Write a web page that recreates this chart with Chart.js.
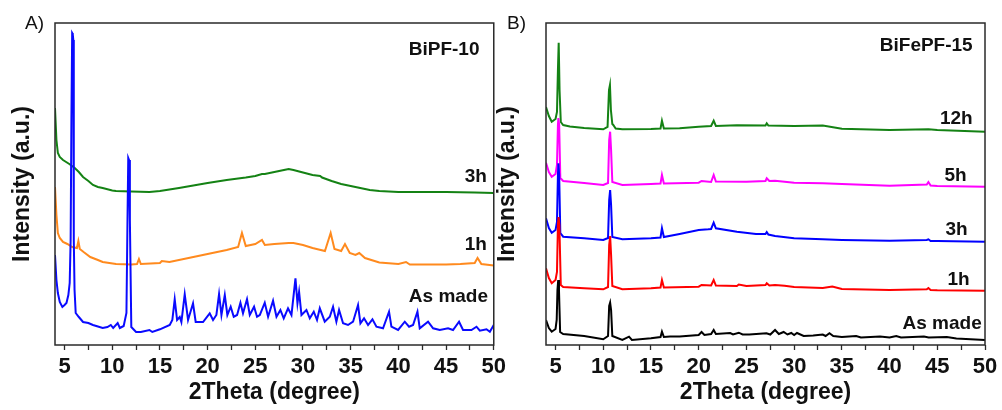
<!DOCTYPE html>
<html>
<head>
<meta charset="utf-8">
<script src="https://cdn.jsdelivr.net/npm/chart.js@4.4.1/dist/chart.umd.min.js"></script>
<style>
  html, body { margin: 0; padding: 0; background: #fff; }
  #wrap { position: relative; width: 1002px; height: 410px; overflow: hidden; }
  canvas { position: absolute; top: 0; }
  #chartA { left: 0; }
  #chartB { left: 496px; }
</style>
</head>
<body>
<div id="wrap">
  <canvas id="chartA" width="510" height="410"></canvas>
  <canvas id="chartB" width="506" height="410"></canvas>
</div>
<script>
// x axis (2Theta, degree)
const xTicks = [5, 7.5, 10, 12.5, 15, 17.5, 20, 22.5, 25, 27.5, 30, 32.5, 35, 37.5, 40, 42.5, 45, 47.5, 50];
const xTickLabels = ['5', '10', '15', '20', '25', '30', '35', '40', '45', '50'];

// panel A - BiPF-10, intensity in a.u. (offset curves)
const seriesNamesA = ['As made', '1h', '3h'];
const bipfAsMade = [
  [4.0, 90], [4.15, 65], [4.3, 52], [4.5, 43], [4.77, 38], [5.0, 40], [5.2, 42], [5.4, 50], [5.54, 62],
  [5.64, 105], [5.72, 225], [5.8, 312], [5.86, 311], [5.92, 305], [5.97, 105], [6.05, 55], [6.17, 32],
  [6.5, 28], [6.94, 23], [7.5, 22], [7.98, 20], [8.5, 18.5], [9.0, 17], [9.5, 18], [9.85, 20], [10.1, 17],
  [10.57, 22], [10.8, 17], [11.2, 19], [11.49, 32], [11.6, 125], [11.68, 187], [11.76, 185], [11.85, 125],
  [12.0, 18], [12.5, 13], [13.0, 13], [13.9, 15], [14.2, 13], [15.0, 15.7], [16.03, 20], [16.3, 25],
  [16.55, 45.7], [16.8, 25], [17.08, 28], [17.25, 23], [17.6, 50.7], [17.95, 25], [18.47, 41.7], [18.75, 23],
  [19.52, 23], [20.22, 31.7], [20.57, 25], [20.92, 30], [21.2, 51], [21.45, 30], [21.8, 50], [22.07, 30],
  [22.42, 38.3], [22.74, 28.3], [23.09, 30], [23.44, 42.3], [23.71, 31.7], [24.13, 45.7], [24.42, 30],
  [24.87, 38.3], [25.18, 28.3], [25.47, 30], [25.99, 42.3], [26.34, 28.3], [26.86, 44.3], [27.22, 28.3],
  [27.63, 35], [27.98, 26.7], [28.43, 36.7], [28.79, 30], [29.21, 66.7], [29.42, 41.7], [29.59, 53.3],
  [29.84, 30], [30.36, 35], [30.71, 26.7], [31.13, 33.3], [31.47, 25], [31.76, 36.7], [32.28, 23.3],
  [32.81, 28.3], [33.15, 38.3], [33.5, 23.3], [33.78, 35], [34.2, 21.7], [34.72, 20], [35.25, 23.3],
  [35.77, 40], [36.02, 21.7], [36.4, 26.7], [36.82, 20], [37.28, 25.7], [37.7, 18.3], [38.39, 16.7],
  [39.02, 33.3], [39.27, 18.3], [39.97, 15], [40.67, 23.3], [41.12, 18.3], [41.54, 20], [42.0, 33.3],
  [42.24, 16.7], [43.11, 23.3], [43.64, 16.7], [44.34, 15], [45.21, 16.7], [45.73, 15], [46.36, 23.3],
  [46.78, 15], [47.66, 15], [48.19, 18.3], [48.54, 14.3], [49.24, 15.7], [49.59, 13.3], [50.0, 20]
];
const bipf1h = [
  [4.0, 158], [4.15, 130], [4.3, 112], [4.5, 107], [4.84, 103], [5.3, 101], [5.8, 98], [6.3, 97],
  [6.45, 104], [6.6, 96], [7.0, 93], [7.7, 88], [8.5, 85], [9.0, 83], [10.4, 81], [12.0, 80.5], [12.6, 81],
  [12.8, 86], [13.0, 81], [14.0, 81.5], [15.0, 82], [15.2, 84], [16, 83], [18, 87], [20, 91], [22, 95],
  [23.2, 98], [23.6, 112], [24.0, 99], [25.0, 101], [25.7, 105], [26.0, 100], [27, 101], [28.5, 102],
  [29, 102], [30, 100], [31, 97], [32.3, 94], [32.9, 112], [33.3, 96], [34.0, 94], [34.4, 101], [34.9, 92],
  [35.5, 90], [35.9, 92], [36.5, 87], [38, 82.5], [40, 81], [40.8, 83], [41.2, 80.5], [45, 80.5],
  [46.5, 81], [48.0, 82], [48.3, 87], [48.7, 81], [50, 79.5]
];
const bipf3h = [
  [4.0, 237], [4.15, 205], [4.3, 192], [4.5, 188], [4.84, 185], [5.5, 181], [6.07, 177], [6.5, 173],
  [6.94, 168], [7.5, 164], [7.98, 160], [8.5, 158], [9.0, 157], [10.0, 154.5], [10.4, 154], [12, 153.5],
  [13.9, 153], [15, 154], [17, 157], [20, 162], [22, 165], [24, 167.5], [25, 169], [25.7, 171], [26, 171],
  [27, 173], [28, 175], [28.5, 176], [29, 175], [30, 172.5], [31, 170], [31.8, 169], [32, 167.5], [33, 164],
  [34, 161], [35, 159], [36, 157], [37, 155], [38, 154], [40, 153], [42, 153], [45, 153], [48, 152.5], [50, 152]
];

// panel B - BiFePF-15, intensity in a.u. (offset curves)
const seriesNamesB = ['As made', '1h', '3h', '5h', '12h'];
const bifepfAsMade = [
  [4.0, 25], [4.3, 17], [4.6, 13.3], [5.0, 16], [5.12, 25], [5.2, 55], [5.28, 65], [5.36, 55], [5.48, 13],
  [5.8, 11], [8, 9], [10.0, 5.7], [10.5, 9], [10.62, 39], [10.72, 42.3], [10.82, 35], [10.95, 9], [12, 5],
  [12.7, 8.3], [13, 5], [15, 6.7], [16.0, 8], [16.15, 13.3], [16.35, 8], [17, 8.5], [18, 8.5], [20, 10],
  [20.3, 13], [20.6, 10], [21.3, 11], [21.57, 15], [21.8, 11], [23.3, 12], [23.6, 10.5], [24.2, 12.3],
  [24.6, 10.5], [25.3, 10.5], [27.1, 11.7], [27.5, 10.5], [28.0, 15], [28.4, 11], [28.9, 13], [29.3, 10.5],
  [29.7, 12], [30.0, 10], [30.3, 12], [31, 9], [32, 9.5], [33, 10.5], [33.3, 9], [33.7, 11.7], [34.1, 9],
  [35, 8], [36.5, 9], [37, 7.5], [38, 8], [39, 8.5], [40, 7.5], [40.7, 9], [41.2, 7.5], [43.6, 8.5],
  [44.1, 7.5], [46, 8], [47, 6.5], [50, 5]
];
const bifepf1h = [
  [4.0, 76.7], [4.3, 67], [4.6, 61.7], [5.0, 65], [5.15, 73], [5.25, 120], [5.32, 128], [5.4, 120],
  [5.55, 60], [5.8, 58], [8, 56.7], [10.0, 55.7], [10.5, 58], [10.62, 100], [10.72, 109], [10.82, 90],
  [10.95, 59], [12, 55.7], [15, 56.7], [16.0, 57.5], [16.15, 65], [16.35, 57.5], [20, 58.3], [20.3, 60],
  [21.3, 59.5], [21.57, 65], [21.8, 59.5], [24, 59], [24.2, 60.5], [25, 59], [27.0, 60], [27.13, 61.7],
  [27.4, 59.5], [28, 60], [29, 59.3], [30, 58], [33, 57], [34, 58.5], [35, 56], [40, 55], [43.9, 55.7],
  [44.07, 57], [44.3, 55], [45, 54.7], [50, 54.3]
];
const bifepf3h = [
  [4.0, 126.7], [4.3, 117], [4.6, 112.3], [5.0, 115], [5.15, 123], [5.25, 170], [5.3, 181.7], [5.38, 170],
  [5.5, 112], [5.8, 108.3], [8, 106.7], [10.0, 105], [10.5, 107], [10.62, 145], [10.72, 155], [10.82, 140],
  [10.95, 108], [12, 105.7], [15, 106.7], [16.0, 107.5], [16.15, 116.7], [16.35, 108], [18, 111], [20, 115],
  [21.0, 115.7], [21.3, 116], [21.57, 122.3], [21.8, 116.7], [24, 113.3], [26, 111], [27.0, 111],
  [27.13, 113], [27.3, 110.5], [28, 109], [30, 106.7], [33, 105.7], [35, 105], [40, 104.3], [43.9, 105],
  [44.07, 105.7], [44.3, 104], [45, 104], [50, 103.3]
];
const bifepf5h = [
  [4.0, 182.3], [4.3, 173], [4.6, 168.3], [5.0, 171], [5.15, 180], [5.25, 220], [5.3, 227], [5.38, 220],
  [5.5, 167], [5.8, 164], [8, 162], [10.0, 160], [10.5, 162], [10.62, 205], [10.72, 213.3], [10.82, 195],
  [10.95, 163], [12, 160], [15, 161], [16.0, 161.5], [16.15, 170], [16.35, 161.5], [20, 162.3], [20.3, 164],
  [21.3, 163], [21.57, 170], [21.8, 163.5], [25, 163.3], [27.0, 164], [27.13, 166.7], [27.4, 164],
  [28, 164.3], [29, 163.3], [30, 162.3], [33, 161.7], [35, 161], [40, 159.3], [43.9, 160.5], [44.07, 163],
  [44.3, 159.5], [45, 159], [50, 158.3]
];
const bifepf12h = [
  [4.0, 238], [4.3, 229], [4.6, 223.3], [5.0, 226], [5.15, 233], [5.25, 275], [5.33, 302.3], [5.42, 255],
  [5.55, 223], [5.8, 220], [6.5, 218.5], [8, 217], [10.0, 215.7], [10.45, 218], [10.6, 255], [10.7, 260],
  [10.8, 235], [10.95, 221], [11.05, 220], [11.3, 216.5], [12, 215.7], [15, 216], [16.0, 216.5],
  [16.15, 224.3], [16.35, 216.5], [18, 216.7], [20, 218.3], [21.3, 219], [21.57, 224.3], [21.8, 219],
  [24, 219.7], [27.0, 219.5], [27.13, 221.7], [27.3, 219.5], [30, 219], [33, 219.5], [35, 216.3], [40, 215],
  [44.07, 215.7], [45, 215], [50, 213.3]
];

const FONT = '"Liberation Sans", Arial, sans-serif';

const framePlugin = {
  id: 'frame',
  afterDatasetsDraw(chart, args, opts) {
    const { ctx, chartArea: a, scales } = chart;
    ctx.save();
    ctx.strokeStyle = '#2a2a2a';
    ctx.lineWidth = 1.5;
    ctx.strokeRect(a.left, a.top, a.right - a.left, a.bottom - a.top);
    ctx.fillStyle = '#111';
    ctx.textBaseline = 'middle';
    ctx.textAlign = 'right';
    ctx.font = 'bold 19px ' + FONT;
    opts.labels.forEach(l => {
      ctx.fillText(l.text, scales.x.getPixelForValue(l.x), scales.y.getPixelForValue(l.y));
    });
    ctx.textAlign = 'left';
    ctx.font = '19px ' + FONT;
    ctx.fillText(opts.panel, opts.panelX, 24);
    ctx.restore();
  }
};

function makeChart(id, series, names, colors, yWidth, padRight, yTitlePad, labels, panel, panelX) {
  const datasets = series.map((s, i) => ({
    label: names[i],
    data: s.map(p => ({ x: p[0], y: p[1] })),
    borderColor: colors[i],
    borderWidth: 2,
    pointRadius: 0,
    tension: 0,
    fill: false
  }));
  return new Chart(document.getElementById(id), {
    type: 'line',
    data: { datasets },
    plugins: [framePlugin],
    options: {
      responsive: false,
      animation: false,
      devicePixelRatio: 1,
      layout: { padding: { top: 23, right: padRight, left: 0, bottom: 0 } },
      plugins: {
        legend: { display: false },
        tooltip: { enabled: false },
        frame: { labels, panel, panelX }
      },
      scales: {
        x: {
          type: 'linear',
          min: 4,
          max: 50,
          afterBuildTicks: s => { s.ticks = xTicks.map(v => ({ value: v })); },
          afterFit: s => { s.height = 65; },
          border: { display: false },
          grid: { drawOnChartArea: false, drawTicks: true, tickLength: 5, tickColor: '#2a2a2a', tickWidth: 1.3 },
          ticks: {
            color: '#111',
            padding: 4,
            maxRotation: 0,
            autoSkip: false,
            font: { family: FONT, size: 22, weight: 'bold' },
            callback: v => (xTickLabels.includes(String(v)) ? String(v) : '')
          },
          title: {
            display: true,
            text: '2Theta (degree)',
            color: '#111',
            font: { family: FONT, size: 23, weight: 'bold', lineHeight: 1 },
            padding: { top: 0, bottom: 5.5 }
          }
        },
        y: {
          min: 0,
          max: 322,
          afterFit: s => { s.width = yWidth; },
          border: { display: false },
          grid: { display: false },
          ticks: { display: false },
          title: {
            display: true,
            text: 'Intensity (a.u.)',
            color: '#111',
            font: { family: FONT, size: 23, weight: 'bold', lineHeight: 1 },
            padding: { top: yTitlePad, bottom: 0 }
          }
        }
      }
    }
  });
}

makeChart('chartA',
  [bipfAsMade, bipf1h, bipf3h], seriesNamesA,
  ['rgb(10,10,255)', 'rgb(255,138,30)', 'rgb(20,130,20)'],
  55, 16, 11,
  [
    { text: 'BiPF-10', x: 48.5, y: 295 },
    { text: seriesNamesA[2], x: 49.27, y: 168 },
    { text: seriesNamesA[1], x: 49.27, y: 100 },
    { text: seriesNamesA[0], x: 49.4, y: 48 }
  ],
  'A)', 25);

makeChart('chartB',
  [bifepfAsMade, bifepf1h, bifepf3h, bifepf5h, bifepf12h], seriesNamesB,
  ['rgb(0,0,0)', 'rgb(255,0,0)', 'rgb(0,0,255)', 'rgb(255,0,255)', 'rgb(20,130,20)'],
  50, 17, 0.5,
  [
    { text: 'BiFePF-15', x: 48.71, y: 299 },
    { text: seriesNamesB[4], x: 48.71, y: 226.5 },
    { text: seriesNamesB[3], x: 48.08, y: 169 },
    { text: seriesNamesB[2], x: 48.19, y: 115 },
    { text: seriesNamesB[1], x: 48.4, y: 65 },
    { text: seriesNamesB[0], x: 49.66, y: 21 }
  ],
  'B)', 11);
</script>
</body>
</html>
